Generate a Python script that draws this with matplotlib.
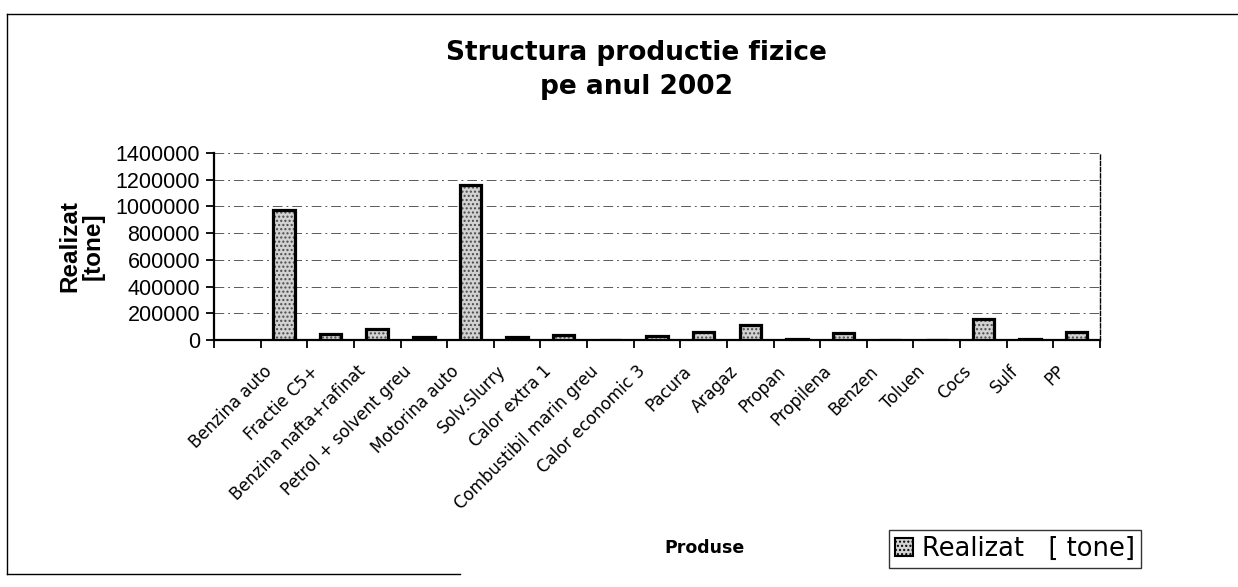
import matplotlib
matplotlib.use("Agg")
import matplotlib.pyplot as plt
import matplotlib.transforms as mtransforms
from matplotlib.lines import Line2D
from matplotlib.patches import Patch
import numpy as np

# categories as on the original Excel chart (first slot of the axis is left blank)
products = [
    "Benzina auto", "Fractie C5+", "Benzina nafta+rafinat", "Petrol + solvent greu",
    "Motorina auto", "Solv.Slurry", "Calor extra 1", "Combustibil marin greu",
    "Calor economic 3", "Pacura", "Aragaz", "Propan", "Propilena", "Benzen",
    "Toluen", "Cocs", "Sulf", "PP",
]
realizat = [
    975000, 45000, 80000, 20000,
    1160000, 20000, 40000, 0,
    30000, 60000, 110000, 10000, 55000, 0,
    0, 160000, 5000, 60000,
]
y_ticks = [0, 200000, 400000, 600000, 800000, 1000000, 1200000, 1400000]

fig = plt.figure(figsize=(12.38, 5.87), dpi=100)
fig.patch.set_facecolor("white")
W, H = 1238, 587
ax = fig.add_axes([214 / W, 1 - 340 / H, (1100 - 214) / W, (340 - 153) / H])

n_slots = len(products) + 1
pos = np.arange(1, n_slots) + 0.5

# stippled fill, then heavy outline
ax.bar(pos, realizat, width=0.46, color="#d2d2d2", edgecolor="#4a4a4a",
       hatch="....", linewidth=0, zorder=3)
ax.bar(pos, realizat, width=0.46, facecolor="none", edgecolor="black",
       linewidth=2.3, zorder=4)

ax.set_xlim(0, n_slots)
ax.set_ylim(0, 1400000)
ax.set_yticks(y_ticks)
ax.set_yticklabels([str(v) for v in y_ticks], fontfamily="Liberation Sans", fontsize=15.5)
ax.set_xticks(np.arange(0, n_slots + 1))
ax.set_xticklabels([])
ax.set_xticks(pos, minor=True)
ax.set_xticklabels(products, minor=True, rotation=45, ha="right", va="top",
                   rotation_mode="anchor", fontfamily="DejaVu Sans", fontsize=12)
ax.tick_params(axis="x", which="major", length=6, width=1.3, direction="out")
ax.tick_params(axis="x", which="minor", length=0, pad=16)
ax.tick_params(axis="y", length=6, width=1.3, direction="out", pad=4)
shift = mtransforms.ScaledTranslation(-0.21, 0, fig.dpi_scale_trans)
for lab in ax.get_xticklabels(minor=True):
    lab.set_transform(lab.get_transform() + shift)

ax.yaxis.grid(True, color="0.35", linewidth=0.7, linestyle=(0, (10, 4, 2, 4)), zorder=1)
ax.set_axisbelow(True)
for side in ("left", "bottom"):
    ax.spines[side].set_linewidth(1.6)
ax.spines["top"].set_visible(False)
ax.spines["right"].set_linestyle((0, (3, 1.5)))
ax.spines["right"].set_linewidth(1.0)

ax.set_ylabel("Realizat\n[tone]", fontfamily="Liberation Sans", fontweight="bold",
              fontsize=17.5, linespacing=1.0, labelpad=8)

fig.text(0.514, 1 - 53 / H, "Structura productie fizice", ha="center", va="center",
         fontfamily="DejaVu Sans", fontweight="bold", fontsize=19)
fig.text(0.514, 1 - 87 / H, "pe anul 2002", ha="center", va="center",
         fontfamily="DejaVu Sans", fontweight="bold", fontsize=19)
fig.text(705 / W, 1 - 548 / H, "Produse", ha="center", va="center",
         fontfamily="DejaVu Sans", fontweight="bold", fontsize=12.5)

handle = Patch(facecolor="#d2d2d2", edgecolor="black", hatch="....", linewidth=1.5)
leg = fig.legend([handle], ["Realizat   [ tone]"], loc="center",
                 bbox_to_anchor=(1015 / W, 1 - 549 / H), frameon=True, fancybox=False,
                 edgecolor="black", prop={"family": "DejaVu Sans", "size": 18.5},
                 handlelength=0.7, handleheight=0.7, handletextpad=0.35,
                 borderpad=0.22, borderaxespad=0)
leg.get_frame().set_linewidth(1.0)

# outer chart frame from the scanned page
frame_kw = dict(color="black", linewidth=1.0, transform=fig.transFigure)
fig.add_artist(Line2D([7 / W, 7 / W], [1 - 14 / H, 1 - 574 / H], **frame_kw))
fig.add_artist(Line2D([7 / W, 1.0], [1 - 14 / H, 1 - 14 / H], **frame_kw))
fig.add_artist(Line2D([7 / W, 460 / W], [1 - 574 / H, 1 - 574 / H], **frame_kw))

fig.savefig("out.png", dpi=100)
